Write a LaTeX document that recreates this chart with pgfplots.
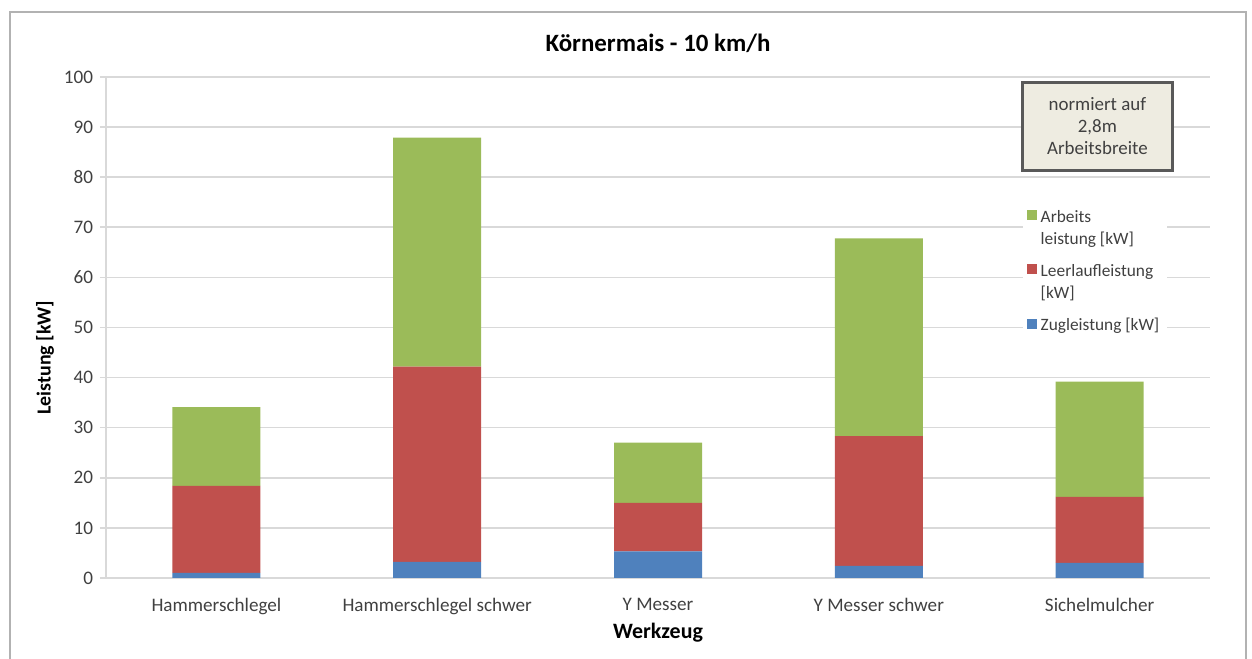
\documentclass[border=0pt]{standalone}
\usepackage{fontspec}
\setmainfont{Carlito}
\usepackage{pgfplots}
\pgfplotsset{compat=1.18}
\definecolor{xgreen}{HTML}{9BBB59}
\definecolor{xred}{HTML}{C0504D}
\definecolor{xblue}{HTML}{4F81BD}
\definecolor{gridc}{HTML}{D9D9D9}
\definecolor{boxfill}{HTML}{EEECE1}
\definecolor{boxline}{HTML}{595959}
\definecolor{txt}{HTML}{404040}
\begin{document}
\begin{tikzpicture}
\begin{axis}[
  scale only axis, width=552bp, height=250.5bp,
  ybar stacked, bar width=44bp,
  xmin=-0.5, xmax=4.5, ymin=0, ymax=100,
  axis x line*=bottom, axis y line*=left,
  axis line style={gridc, line width=0.8bp},
  xtick={0,...,4},
  xticklabels={Hammerschlegel, Hammerschlegel schwer, Y Messer, Y Messer schwer, Sichelmulcher},
  major x tick style={draw=none},
  extra x ticks={0.5,1.5,2.5,3.5},
  extra x tick labels={},
  extra x tick style={major tick length=3bp, tick style={draw=gridc, line width=0.8bp}, grid=none},
  ytick={0,10,...,100},
  ymajorgrids, grid style={gridc, line width=0.8bp},
  tick align=outside, major tick length=3bp,
  y tick style={gridc, line width=0.8bp},
  /pgf/number format/assume math mode=true,
  ticklabel style={font=\fontsize{9.6}{11}\selectfont, text=txt},
  xticklabel style={yshift=-3.5bp},
  title={Körnermais - 10 km/h},
  title style={font=\fontsize{12.5}{14}\selectfont\bfseries, at={(rel axis cs:0.5,1)}, anchor=center, yshift=11bp},
  xlabel={Werkzeug},
  xlabel style={font=\fontsize{11}{13}\selectfont\bfseries, at={(axis description cs:0.5,0)}, anchor=center, yshift=-27.5bp},
  ylabel={Leistung [kW]},
  ylabel style={font=\fontsize{10}{12}\selectfont\bfseries, at={(axis description cs:0,0.44)}, anchor=center, yshift=30.5bp},
  legend cell align=left,
  legend style={at={(0.830,0.75)}, anchor=north west, draw=none, fill=white,
    font=\fontsize{8.7}{11}\selectfont, text=txt, cells={align=left}, row sep=4.5bp, inner sep=2bp},
]
\coordinate (O) at (rel axis cs:0,0);
\addplot[fill=xblue, draw=none, forget plot] coordinates {(0,1.0) (1,3.2) (2,5.3) (3,2.4) (4,3.0)};
\addplot[fill=xred, draw=none, forget plot] coordinates {(0,17.4) (1,39.0) (2,9.7) (3,25.9) (4,13.2)};
\addplot[fill=xgreen, draw=none, forget plot] coordinates {(0,15.7) (1,45.7) (2,12.0) (3,39.5) (4,23.0)};
\addlegendimage{legend image code/.code={\fill[xgreen] (0bp,4.7bp) rectangle (4.6bp,9.3bp);}}
\addlegendentry{Arbeits\\leistung {[kW]}}
\addlegendimage{legend image code/.code={\fill[xred] (0bp,4.7bp) rectangle (4.6bp,9.3bp);}}
\addlegendentry{Leerlaufleistung\\{[kW]}}
\addlegendimage{legend image code/.code={\fill[xblue] (0bp,-1.3bp) rectangle (4.6bp,3.3bp);}}
\addlegendentry{Zugleistung {[kW]}}
\node[draw=boxline, line width=1.5bp, fill=boxfill, align=center, minimum width=75bp, minimum height=44bp,
  font=\fontsize{9.5}{11}\selectfont, text=txt] at (rel axis cs:0.898,0.902) {normiert auf\\2,8m\\Arbeitsbreite};
\end{axis}
\pgfresetboundingbox
\path[use as bounding box] ([shift={(-53bp,-40.5bp)}]O) rectangle ([shift={(573bp,289bp)}]O);
\draw[gray!60, line width=1bp] ([shift={(-48bp,-45bp)}]O) rectangle ([shift={(570bp,283bp)}]O);
\end{tikzpicture}
\end{document}
